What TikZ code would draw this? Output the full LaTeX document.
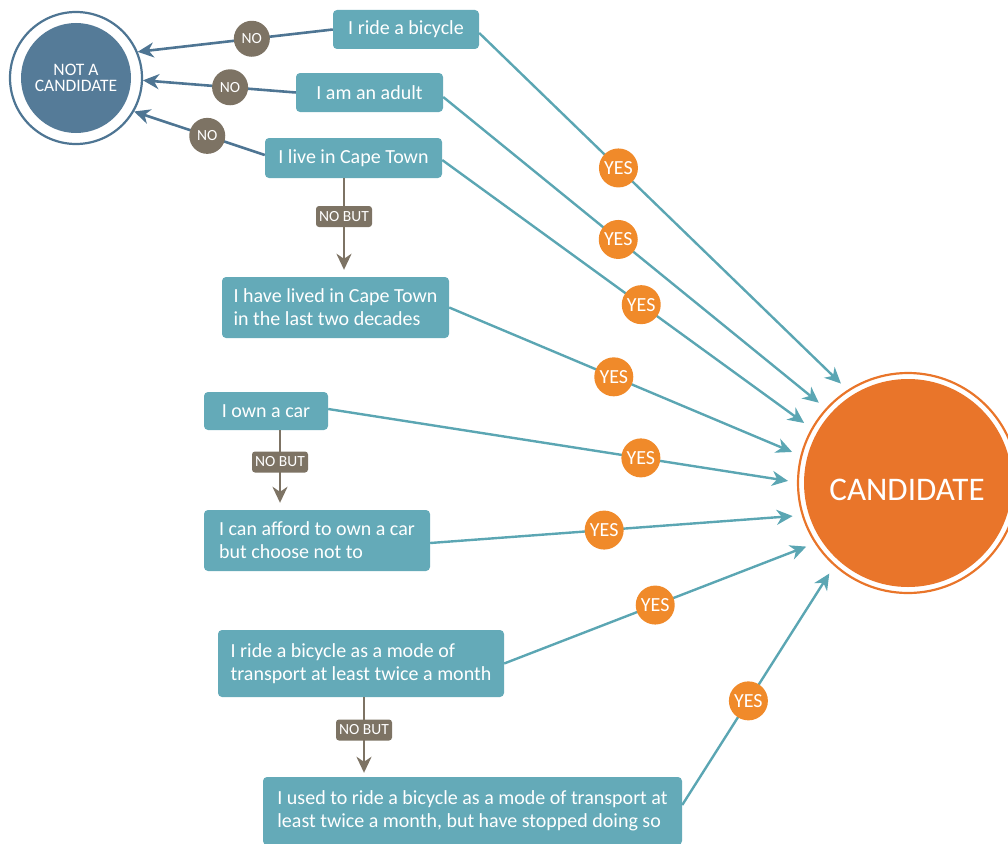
\documentclass[tikz,border=0pt]{standalone}
\usepackage{fontspec}
\setmainfont{Carlito}
\usetikzlibrary{arrows.meta,calc}

\definecolor{boxteal}{HTML}{64AAB8}
\definecolor{lineteal}{HTML}{5BA6B3}
\definecolor{slate}{HTML}{557B98}
\definecolor{slateline}{HTML}{4E7593}
\definecolor{taupe}{HTML}{7D7364}
\definecolor{candorange}{HTML}{E9752A}
\definecolor{yesorange}{HTML}{F08A2A}

\tikzset{
  box/.style={rectangle, rounded corners=4pt, fill=boxteal, text=white,
    font=\fontsize{20}{23}\selectfont, align=left, inner sep=0pt},
  yesline/.style={draw=lineteal, line width=2.4pt,
    -{Stealth[length=16pt,width=15pt,inset=5pt]}},
  noline/.style={draw=slateline, line width=2.6pt,
    -{Stealth[length=16pt,width=15pt,inset=5pt]}},
  butline/.style={draw=taupe, line width=2.4pt,
    -{Stealth[length=16pt,width=15pt,inset=5pt]}},
  yesbadge/.style={circle, fill=yesorange, text=white, inner sep=0pt,
    minimum size=39pt, font=\fontsize{20}{20}\selectfont},
  nobadge/.style={circle, fill=taupe, text=white, inner sep=0pt,
    minimum size=36pt, font=\fontsize{15.5}{15.5}\selectfont},
  butbadge/.style={rectangle, rounded corners=3pt, fill=taupe, text=white,
    inner sep=0pt, minimum width=56pt, minimum height=21pt,
    font=\fontsize{15.5}{15.5}\selectfont},
  anchorring/.style={circle, inner sep=0pt, outer sep=0pt}
}

\begin{document}
\begin{tikzpicture}[x=1pt,y=-1pt]
\useasboundingbox (0,0) rectangle (1008,843);

% outcome circles
\fill[slate] (76,78) circle (55pt);
\draw[slateline, line width=2.2pt] (76,78) circle (66pt);
\node[anchorring, minimum size=134pt, text=white, align=center,
  font=\fontsize{17.5}{16.5}\selectfont] (nc) at (76,78) {NOT A\\CANDIDATE};

\fill[candorange] (908,483) circle (104pt);
\draw[candorange, line width=2.2pt] (908,483) circle (110pt);
\node[anchorring, minimum size=240pt] (cand) at (908,483) {};
\node[text=white, font=\fontsize{33}{33}\selectfont] (candlabel) at (907,490) {CANDIDATE};

% statement boxes
\node[box, minimum width=146pt, minimum height=39pt] (b1) at (406,29.5) {I ride a bicycle};
\node[box, minimum width=147pt, minimum height=39pt] (b2) at (369.5,92.5) {I am an adult};
\node[box, minimum width=177pt, minimum height=40pt] (b3) at (353.5,158) {I live in Cape Town};
\node[box, minimum width=227pt, minimum height=61pt] (b4) at (335.5,307.5) {I have lived in Cape Town\\in the last two decades};
\node[box, minimum width=124pt, minimum height=38pt] (b5) at (266,411) {I own a car};
\node[box, minimum width=226pt, minimum height=61pt] (b6) at (317,540.5) {I can afford to own a car\\but choose not to};
\node[box, minimum width=286pt, minimum height=67pt] (b7) at (361,663.5) {I ride a bicycle as a mode of\\transport at least twice a month};
\node[box, minimum width=419pt, minimum height=68pt] (b8) at (472.5,811) {I used to ride a bicycle as a mode of transport at\\least twice a month, but have stopped doing so};

% NO branches
\draw[noline] (b1.west) -- node[nobadge, pos=0.415] (no1) {NO} (nc.23);
\draw[noline] (b2.west) -- node[nobadge, pos=0.43] (no2) {NO} (nc.-2);
\draw[noline] ($(b3.west)+(0,-3)$) -- node[nobadge, pos=0.44] (no3) {NO} (nc.-30);

% NO BUT branches: connectors first, badges on top
\coordinate (nb1c) at (344,216.5);
\coordinate (nb2c) at (280,462);
\coordinate (nb3c) at (364,730);
\draw[butline, shorten >=7pt] (b3.south -| nb1c) -- (b4.north -| nb1c);
\draw[butline, shorten >=7pt] (b5.south -| nb2c) -- (b6.north -| nb2c);
\draw[butline, shorten >=4pt] (b7.south -| nb3c) -- (b8.north -| nb3c);
\node[butbadge] (nb1) at (nb1c) {NO BUT};
\node[butbadge] (nb2) at (nb2c) {NO BUT};
\node[butbadge] (nb3) at (nb3c) {NO BUT};

% YES branches
\draw[yesline] ($(b1.east)+(0,3.5)$) -- node[yesbadge, pos=0.385] (y1) {YES} (cand.124.8);
\draw[yesline] ($(b2.east)+(0,4.5)$) -- node[yesbadge, pos=0.466] (y2) {YES} (cand.138);
\draw[yesline] ($(b3.east)+(0,2)$) -- node[yesbadge, pos=0.55] (y3) {YES} (cand.150.6);
\draw[yesline] (b4.east) -- node[yesbadge, pos=0.48] (y4) {YES} (cand.165);
\draw[yesline] ($(b5.east)+(0,-2)$) -- node[yesbadge, pos=0.68] (y5) {YES} (cand.179);
\draw[yesline] ($(b6.east)+(0,2.5)$) -- node[yesbadge, pos=0.48] (y6) {YES} (cand.196.8);
\draw[yesline] (b7.east) -- node[yesbadge, pos=0.5] (y7) {YES} (cand.212.2);
\draw[yesline] ($(b8.east)+(0,-6)$) -- node[yesbadge, pos=0.45] (y8) {YES} (cand.229.7);
\end{tikzpicture}
\end{document}
